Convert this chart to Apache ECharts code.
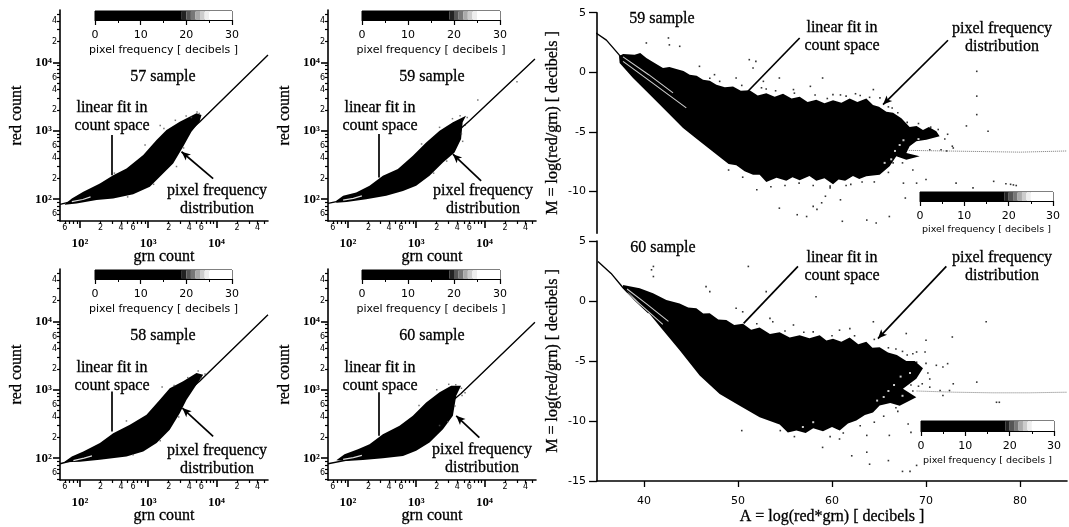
<!DOCTYPE html>
<html><head><meta charset="utf-8">
<style>html,body{margin:0;padding:0;background:#fff}#c{width:1069px;height:527px}canvas{filter:blur(0.45px)}</style>
<script src="https://cdn.jsdelivr.net/npm/echarts@6/dist/echarts.min.js"></script>
</head><body><div id="c"></div>
<script>
// ---------- data ----------
const majorTicks=[100,1000,10000];
const majorLabels=["10²","10³","10⁴"];
const minorTicks=[50,60,70,80,90,200,300,400,500,600,700,800,900,2000,3000,4000,5000,6000,7000,8000,9000,20000,30000,40000,50000];
const minorLabelled=[60,200,400,600,2000,4000,6000,20000,40000];
const maTicksX=[40,50,60,70,80];
const maTicksYUpper=[5,0,-5,-10];
const maTicksYLower=[5,0,-5,-10,-15];
const barTicks=[0,10,20,30];
const barSegments=[[0,19,'#000'],[19,20,'#222'],[20,21,'#555'],[21,22,'#777'],[22,23,'#aaa'],[23,24,'#ccc'],[24,25,'#eee'],[25,30,'#fff']];

const blob57=[[60,84.5],[76,102],[112,128],[196,170],[307,224],[481,281],[846,441],[1325,730],[1853,1024],[2900,1355],[5100,1794],[6040,1696],[5660,1355],[4305,967],[3251,583],[2322,333],[1482,212],[1058,152],[603,118],[307,102],[175,97],[89,86.5],[60,83]];
const blob59L=[[67.5,94.5],[85,112],[132,125],[207,157],[325,220],[539,275],[894,431],[1400,675],[2200,1000],[3450,1330],[5370,1660],[4800,1330],[4550,755],[3650,482],[2470,344],[1570,220],[1000,157],[640,132],[364,112],[185,100],[95,91],[67.5,89]];
const blob58=[[60,89.4],[76,106],[112,125],[196,166],[307,232],[539,307],[945,431],[1480,713],[2070,1055],[3250,1326],[5100,1750],[6400,1650],[5100,1180],[3650,713],[2900,455],[2070,260],[1330,166],[846,125],[481,106],[196,95],[100,89],[60,87]];
const blob60L=[[67.5,93.5],[89,114],[140,135],[207,160],[325,224],[570,297],[894,416],[1400,652],[2200,915],[3250,1143],[4540,1143],[3860,817],[3450,416],[2470,265],[1570,170],[1000,128],[640,108],[325,100],[166,94],[95,91]];

const fit57=[[51,84],[200,117],[1000,296],[5660,1337],[57000,12800]];
const fit59L=[[51,87],[200,115],[1000,285],[6040,1400],[55000,11200]];
const fit58=[[51,83],[200,118],[1000,300],[5660,1326],[57000,12500]];
const fit60L=[[51,83],[200,108],[1000,245],[4540,880],[55000,9670]];

const streak57=[[76,92],[110,99],[143,108]];
const streak59L=[[85,97],[120,103],[160,112]];
const streak58=[[80,92],[115,100],[150,108]];
const streak60L=[[85,96],[120,102],[160,110]];

const specks57=[[2500,1420],[3600,1640],[5200,1880],[5600,1780],[4300,1560],[1700,1080],[1500,1190],[900,620],[320,240],[3300,560],[2600,300],[1200,165],[500,108]];
const specks59L=[[2200,1120],[3400,1500],[4400,1650],[5600,1560],[5200,1200],[4600,900],[4800,700],[1200,640],[2800,360],[1800,240],[8000,2800],[30000,5200]];
const specks58=[[2400,1150],[3800,1500],[5400,1880],[6000,1500],[6800,1700],[1600,1100],[2800,400],[1500,180],[600,112],[480,350]];
const specks60L=[[2000,1000],[3000,1200],[3800,1180],[4600,1050],[4700,820],[3700,580],[2900,340],[2200,300],[1100,590],[5200,900]];

const lead57=[[290,865],[290,224]],arrow57=[[8950,200],[3080,493]];
const lead59L=[[281,894],[281,207]],arrow59L=[[8950,185],[3450,455]];
const lead58=[[290,945],[290,245]],arrow58=[[8950,208],[3170,539]];
const lead60L=[[281,915],[281,212]],arrow60L=[[8430,200],[3860,416]];

const blob59=[[37.34,1.34],[37.77,1.54],[39.0,1.48],[39.6,1.62],[40.25,1.2],[41.13,.78],[42.02,.36],[42.7,.45],[43.44,.28],[44.2,.1],[44.86,-.2],[45.6,-.3],[46.28,-.62],[47,-.7],[47.7,-1.04],[48.6,-1.25],[49.47,-1.2],[50.3,-1.55],[51.24,-1.5],[52.1,-1.95],[53.01,-1.75],[53.9,-2.05],[54.79,-1.8],[55.7,-2.2],[56.56,-2.05],[57.4,-2.5],[58.33,-2.3],[59.2,-2.6],[60.11,-2.35],[61,-2.55],[61.88,-2.2],[62.7,-2.5],[63.65,-2.2],[64.36,-2.75],[65,-2.9],[65.78,-3.3],[66.5,-3.4],[67.38,-3.85],[68.26,-4.6],[69,-4.5],[69.68,-4.85],[70.3,-4.6],[71.1,-4.95],[71.45,-5.37],[70.04,-5.65],[68.97,-5.79],[68.26,-6.2],[67.91,-6.77],[69.33,-7.05],[67.91,-7.33],[66.84,-7.05],[66.13,-7.89],[65.07,-8.59],[63.65,-8.73],[62.9,-8.95],[62.23,-8.7],[61.4,-9.1],[60.7,-9.0],[60.11,-9.4],[59.2,-8.9],[58.33,-9.1],[57.6,-8.7],[56.56,-9.05],[55.8,-8.8],[55.14,-9.1],[54.1,-8.85],[53.01,-9.2],[52.3,-8.6],[51.6,-8.6],[50.7,-8.3],[49.82,-7.8],[49,-7.7],[48.05,-7.1],[45.92,-5.79],[44.15,-4.67],[42.38,-3.27],[40.6,-1.87],[38.83,-.48],[37.41,.78]];
const blob60=[[37.77,1.34],[39.54,1.06],[40.96,.64],[42.38,.08],[43.79,-.2],[44.7,-.55],[45.57,-.61],[46.3,-1.05],[46.99,-1.03],[47.9,-1.55],[48.76,-1.59],[49.6,-2.0],[50.53,-1.9],[51.4,-2.4],[52.3,-2.2],[53.4,-2.75],[54.43,-2.6],[55.5,-3.05],[56.56,-2.85],[57.6,-3.1],[58.69,-2.85],[59.4,-3.3],[60.11,-3.15],[61,-3.4],[61.88,-3.05],[62.8,-3.6],[63.65,-3.4],[64.3,-3.9],[65.07,-3.85],[65.96,-4.3],[66.9,-4.5],[67.91,-5.0],[68.8,-5.0],[69.68,-5.6],[68.97,-6.48],[67.55,-7.32],[68.97,-8.02],[67.2,-8.72],[66.2,-8.5],[65.07,-8.7],[64.36,-9.3],[63.5,-9.5],[62.59,-9.95],[61.7,-10.2],[60.82,-10.8],[60,-10.5],[59.04,-10.85],[58,-10.6],[57.2,-11.0],[56.21,-10.8],[55.3,-10.95],[54.43,-10.3],[52.3,-9.69],[50.18,-8.72],[48.05,-7.74],[45.92,-6.2],[43.79,-4.11],[42.02,-2.43],[40.25,-.75],[38.48,.64],[37.77,1.06]];
const fit59=[[34.9,3.3],[36,2.7],[37.34,1.48],[38.5,.6],[40,-.5]];
const fit60=[[35.1,3.3],[36.5,2.3],[37.77,1.1],[39,.1],[40.5,-1]];
const streak59a=[[37.77,1.29],[40.5,-.2],[43.09,-1.73]];
const streak59b=[[37.77,.92],[41,-.95],[44.5,-2.99]];
const streak60a=[[38.2,1.0],[40.2,-.2],[42.6,-1.7]];
const streak60b=[[38.2,.65],[40.2,-.7],[42,-1.95]];
const lead59=[[56.56,2.88],[51.06,-1.59]],arrow59=[[72.34,2.69],[65.43,-2.71]];
const lead60=[[56.38,2.88],[50.6,-1.87]],arrow60=[[72.16,2.88],[64.89,-3.13]];
const dotted59=[[68,-6.55],[72,-6.6],[76,-6.65],[80,-6.7],[85,-6.6]];
const dotted60=[[69,-7.5],[73,-7.6],[77,-7.65],[81,-7.65],[85,-7.6]];
const specks59=[[40.25,2.46],[42.6,2.88],[42.7,2.3],[43.8,2.18],[45.9,.5],[47.5,-.2],[51.2,1.06],[51.9,.92],[51.6,.36],[49.8,-.48],[48.05,-.76],[52.7,-.76],[54.4,-.48],[59,-.48],[57.7,-1.18],[55.9,-1.45],[60.1,-1.87],[61.5,-2],[64.4,-1.45],[65.1,-2.15],[75.4,.08],[75.4,-2],[75.4,-3.55],[74.3,-4.5],[76.6,-4.95],[72.8,-6.2],[71.6,-6.5],[70.4,-6.5],[72.2,-6.6],[72.9,-6.35],[52,-9.85],[54.4,-11.4],[56.3,-11.95],[57.3,-12.1],[58.4,-11.5],[58.9,-10.95],[59.3,-10.4],[59.8,-9.55],[58,-11.25],[60.9,-10.7],[61.1,-12.5],[63.7,-12.4],[64.7,-12.65],[66.1,-12.1],[67.8,-10.55],[67.6,-9.3],[69,-9.3],[70,-9],[73.2,-9.3],[75,-9.7],[77.2,-9.15],[78.5,-9.35],[79,-9.4],[79.3,-9.45],[79.6,-9.5],[67.5,-7.6],[68.6,-8.2],[66.5,-7.6],[53,-1.4],[50.4,-1.1],[47,-.5],[62.5,-1.8],[60.9,-1.9],[66.4,-3],[69.2,-4.3],[70.5,-4.6],[71.3,-4.8],[66,-8.4],[64.5,-9.2],[62,-9.4],[55,-9.5],[53.5,-9.6],[52.5,-1.3],[54,-1.55],[56,-1.75],[58.2,-1.9],[59.5,-2.2],[63,-1.95],[64,-2.1],[66,-2.9],[67,-3.4],[68,-4.2],[56.5,-9.3],[58,-9.5],[59.8,-9.7],[61.5,-9.5],[63.2,-9.2],[50.5,-8.8],[49,-8.2],[72,-5.6],[72.3,-5.2]];
const specks60=[[41,2.04],[40.8,2.6],[41,2.88],[46.6,1.2],[47,.78],[51.1,2.88],[53,.78],[58.3,.36],[50.5,-.9],[49.8,-.6],[53.4,-1.45],[53.7,-1.73],[55.9,-2],[58,-2.57],[60.8,-2.43],[61.9,-2.3],[64.4,-1.73],[67.9,-2.71],[70,-3.27],[72.8,-3],[76.4,-1.73],[69,-4.25],[69.9,-4.25],[71.1,-5.36],[72.3,-5.22],[71.8,-5.5],[72.9,-6.9],[75.4,-6.76],[70.4,-7.18],[71.5,-7.46],[72.5,-7.46],[71.8,-7.88],[77.5,-8.44],[77.8,-8.44],[68.1,-10.25],[68.4,-10.95],[66.1,-11.2],[63.7,-11.2],[60.8,-11.5],[59,-12.2],[50.4,-10.8],[63.7,-12.6],[62.1,-12.9],[64,-13.6],[66,-13.3],[67.5,-14.2],[68.3,-14.2],[69,-13.7],[66,-3.9],[67.5,-4.2],[68.6,-4.4],[69,-5.1],[70.2,-6],[69.6,-6.9],[68.4,-7],[68.6,-7.5],[67,-9.2],[65.5,-9.6],[64.5,-10.1],[63,-10.4],[52,-1.9],[55,-2.5],[57,-2.6],[60,-2.9],[62.4,-2.9],[64.5,-3.2],[66.8,-4],[68,-4.5],[70,-5.2],[61.2,-11],[59.8,-11.3],[56,-11.3],[54.5,-10.8],[66.8,-8.9],[69.2,-7.1],[70.4,-6.5]];
const holes59=[[67.2,-6.1],[66.7,-6.6],[67.6,-5.7],[68.7,-6.1],[66.3,-7.3],[65.6,-7.6],[69.2,-5.6]];
const holes60=[[66,-7.5],[66.6,-7],[67.3,-6.3],[65.5,-8],[64.8,-8.3],[67.5,-7.9],[58,-10.1],[56.9,-10.5],[68.3,-6]];

// ---------- builders ----------
const serif='"Liberation Serif"', sans='"DejaVu Sans"';
const grid=[],xAxis=[],yAxis=[],series=[],graphic=[];
const line={show:true,onZero:false,lineStyle:{color:'#000',width:1.6}};
const nameStyle=size=>({fontFamily:serif,fontSize:size,color:'#000',textBorderColor:'#000',textBorderWidth:0.3});
function shape(g,pts){return {type:'custom',coordinateSystem:'cartesian2d',xAxisIndex:g.x,yAxisIndex:g.y,silent:true,clip:true,data:pts,
  encode:{x:0,y:1},renderItem:(p,api)=>p.dataIndex?null:{type:'polygon',shape:{points:pts.map(q=>api.coord(q))},style:{fill:'#000'}}};}
function lineS(g,pts,color,width,type,marks){const s={type:'line',xAxisIndex:g.x,yAxisIndex:g.y,data:pts,showSymbol:false,silent:true,clip:true,z:4,
  lineStyle:{color:color,width:width,type:type||'solid'}};
  if(marks){s.markLine={silent:true,animation:false,symbolSize:[6,9],label:{show:false},emphasis:{disabled:true},lineStyle:{color:'#000',width:1.7,type:'solid'},data:marks};}
  return s;}
function speck(g,pts,color,size){return {type:'scatter',xAxisIndex:g.x,yAxisIndex:g.y,data:pts,symbol:'rect',symbolSize:size,silent:true,itemStyle:{color:color},z:3};}
function seg(a,arrow){return [{coord:a[0],symbol:'none'},{coord:a[1],symbol:arrow?'arrow':'none'}];}
function text(t,x,y,size,font){graphic.push({type:'text',x:x,y:y,silent:true,style:{text:t,font:(size||16)+'px '+(font||serif),fill:'#000',stroke:'#000',lineWidth:0.3,align:'center',verticalAlign:'middle',lineHeight:18}});}

function colorbar(x,y,w,h,nameSize,gap){
  const gi=grid.length;
  grid.push({left:x,top:y,width:w,height:h,show:true,borderColor:'#000',borderWidth:1,backgroundColor:'#fff',outerBoundsMode:'none'});
  xAxis.push({type:'value',gridIndex:gi,min:0,max:30,interval:10,position:'bottom',name:'pixel frequency [ decibels ]',nameLocation:'middle',nameGap:gap,
    nameTextStyle:{fontFamily:sans,fontSize:nameSize,color:'#000'},splitLine:{show:false},axisLine:{show:true,onZero:false,lineStyle:{color:'#000',width:1}},
    axisTick:{length:5,lineStyle:{color:'#000',width:1.2}},minorTick:{show:true,splitNumber:2,length:3,lineStyle:{color:'#000'}},minorSplitLine:{show:false},
    axisLabel:{customValues:barTicks,fontFamily:sans,fontSize:11,color:'#000',margin:10,hideOverlap:false}});
  yAxis.push({type:'value',gridIndex:gi,min:0,max:1,show:false});
  const ax=xAxis.length-1,ay=yAxis.length-1;
  series.push({type:'custom',xAxisIndex:ax,yAxisIndex:ay,silent:true,data:barSegments,encode:{x:[0,1]},
    renderItem:(p,api)=>{const a=api.coord([api.value(0),1]),b=api.coord([api.value(1),0]);
      return {type:'rect',shape:{x:a[0],y:a[1],width:b[0]-a[0],height:b[1]-a[1]},style:{fill:barSegments[p.dataIndex][2]}};}});
}

function logPanel(left,top,blob,fit,streak,specks,lead,arrow){
  const gi=grid.length;
  grid.push({left:left,top:top,width:208,height:211,outerBoundsMode:'none'});
  const common={type:'log',logBase:10,gridIndex:gi,min:51,splitLine:{show:false},minorSplitLine:{show:false}};
  const digit=v=>String(Math.round(v/Math.pow(10,Math.floor(Math.log10(v)+1e-9))));
  const major=v=>majorLabels[majorTicks.indexOf(Math.round(v))]||'';
  const minorLab=(m)=>({customValues:minorLabelled,formatter:digit,fontFamily:sans,fontSize:8,color:'#000',margin:m,hideOverlap:false,showMinLabel:true,showMaxLabel:true});
  const majorLab=(m)=>({customValues:majorTicks,formatter:major,fontFamily:serif,fontWeight:'bold',fontSize:13,color:'#000',margin:m,hideOverlap:false});
  xAxis.push(Object.assign({},common,{max:57000,position:'bottom',name:'grn count',nameLocation:'middle',nameGap:28,nameTextStyle:nameStyle(16),
    axisLine:line,axisTick:{customValues:minorTicks,length:3,lineStyle:{color:'#000',width:1.2}},axisLabel:minorLab(3)}));
  xAxis.push(Object.assign({},common,{max:57000,position:'bottom',axisLine:{show:false,onZero:false},axisTick:{customValues:majorTicks,length:7,lineStyle:{color:'#000',width:1.6}},axisLabel:majorLab(16)}));
  yAxis.push(Object.assign({},common,{min:48,max:58000,position:'left',name:'red count',nameLocation:'middle',nameGap:35,nameTextStyle:nameStyle(16),
    axisLine:line,axisTick:{customValues:minorTicks,length:3,lineStyle:{color:'#000',width:1.2}},axisLabel:minorLab(3)}));
  yAxis.push(Object.assign({},common,{min:48,max:58000,position:'left',axisLine:{show:false,onZero:false},axisTick:{customValues:majorTicks,length:7,lineStyle:{color:'#000',width:1.6}},axisLabel:majorLab(8)}));
  const g={x:xAxis.length-2,y:yAxis.length-2};
  series.push(shape(g,blob));
  series.push(speck(g,specks,'#555',1.5));
  series.push(lineS(g,fit,'#000',1.4,null,[seg(lead,false),seg(arrow,true)]));
  series.push(lineS(g,streak,'#ddd',1.2));
}

function maPanel(top,height,minY,yTicks,showX,blob,fit,sa,sb,specks,holes,dotted,lead,arrow){
  const gi=grid.length;
  grid.push({left:597,top:top,width:470,height:height,outerBoundsMode:'none'});
  xAxis.push({type:'value',gridIndex:gi,min:35,max:85,position:'bottom',show:showX,name:'A = log(red*grn) [ decibels ]',nameLocation:'middle',nameGap:28,
    nameTextStyle:nameStyle(16),splitLine:{show:false},axisLine:line,axisTick:{customValues:maTicksX,length:6,lineStyle:{color:'#000',width:1.3}},
    axisLabel:{customValues:maTicksX,fontFamily:sans,fontSize:11,color:'#000',margin:15}});
  yAxis.push({type:'value',gridIndex:gi,min:minY,max:5,position:'left',name:'M = log(red/grn) [ decibels ]',nameLocation:'middle',nameGap:36,
    nameTextStyle:nameStyle(16),splitLine:{show:false},axisLine:line,axisTick:{customValues:yTicks,length:8,lineStyle:{color:'#000',width:1.3}},
    axisLabel:{customValues:yTicks,fontFamily:sans,fontSize:11,color:'#000',margin:11,hideOverlap:false,showMinLabel:true,showMaxLabel:true}});
  const g={x:xAxis.length-1,y:yAxis.length-1};
  series.push(shape(g,blob));
  series.push(lineS(g,dotted,'#777',1,'dotted'));
  series.push(speck(g,specks,'#000',1.6));
  series.push(speck(g,holes,'#fff',2));
  series.push(lineS(g,fit,'#000',1.4,null,[seg(lead,false),seg(arrow,true)]));
  series.push(lineS(g,sa,'#ccc',1.1));
  series.push(lineS(g,sb,'#ccc',1.1));
}

logPanel(60,10,blob57,fit57,streak57,specks57,lead57,arrow57);
logPanel(328,10,blob59L,fit59L,streak59L,specks59L,lead59L,arrow59L);
logPanel(60,269,blob58,fit58,streak58,specks58,lead58,arrow58);
logPanel(328,269,blob60L,fit60L,streak60L,specks60L,lead60L,arrow60L);
maPanel(12.7,220.5,-13.5,maTicksYUpper,false,blob59,fit59,streak59a,streak59b,specks59,holes59,dotted59,lead59,arrow59);
maPanel(241,240,-15,maTicksYLower,true,blob60,fit60,streak60a,streak60b,specks60,holes60,dotted60,lead60,arrow60);

colorbar(95,11,137,9,11,25);
colorbar(362,11,138,9,11,25);
colorbar(95,270,137,9,11,25);
colorbar(362,270,138,9,11,25);
colorbar(920,192,133,9,9.5,24);
colorbar(921,421,133,10,9.5,25);

text('57 sample',163,77); text('59 sample',432,77); text('58 sample',163,336); text('60 sample',432,336);
text('59 sample',662,19); text('60 sample',663,248);
[[112,117],[380,117],[112,377],[380,377],[842,37],[842,267]].forEach(p=>text('linear fit in\ncount space',p[0],p[1]));
[[217,200],[483,200],[217,460],[482,459],[1002,38],[1002,267]].forEach(p=>text('pixel frequency\ndistribution',p[0],p[1]));

const chart=echarts.init(document.getElementById('c'),null,{renderer:'canvas'});
chart.setOption({animation:false,backgroundColor:'#fff',tooltip:{show:false},grid,xAxis,yAxis,series,graphic:{elements:graphic}});
</script></body></html>
